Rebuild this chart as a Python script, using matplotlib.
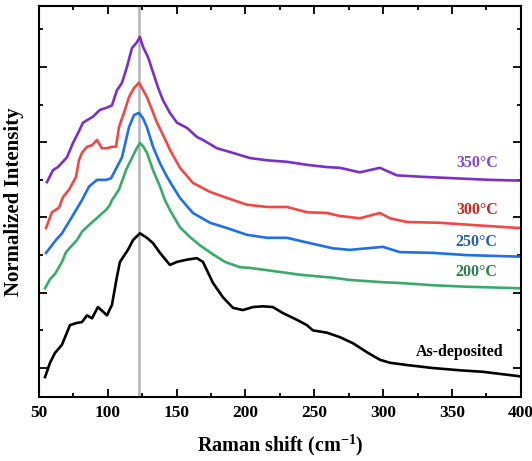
import matplotlib
matplotlib.use("Agg")
import matplotlib.pyplot as plt
from matplotlib.ticker import MultipleLocator, NullFormatter

plt.rcParams['font.family'] = ['Liberation Serif', 'DejaVu Serif']
plt.rcParams['font.weight'] = 'bold'
plt.rcParams['mathtext.fontset'] = 'custom'
plt.rcParams['mathtext.rm'] = 'Liberation Serif:bold'
plt.rcParams['mathtext.bf'] = 'Liberation Serif:bold'

# Raman spectra (normalized intensity, offset per curve)
x_asdep = [54.4, 58.0, 61.6, 66.7, 72.5, 77.6, 81.2, 84.9, 88.5, 92.8, 99.4, 103.0,
           106.6, 108.8, 114.6, 118.3, 123.3, 128.4, 132.8, 137.9, 145.1, 150.2, 157.5,
           164.7, 169.1, 176.4, 183.6, 190.9, 198.1, 205.4, 212.7, 219.9, 227.2, 237.4,
           244.6, 249.0, 259.1, 268.6, 278.0, 288.2, 297.6, 304.9, 317.2, 336.1, 355.7,
           372.4, 399.3]
y_asdep = [0.88, 1.07, 1.20, 1.31, 1.57, 1.60, 1.61, 1.70, 1.66, 1.81, 1.70, 1.84,
           2.21, 2.41, 2.57, 2.70, 2.79, 2.73, 2.66, 2.53, 2.37, 2.41, 2.44,
           2.46, 2.41, 2.13, 1.94, 1.80, 1.77, 1.81, 1.82, 1.81, 1.73, 1.64,
           1.57, 1.50, 1.47, 1.41, 1.33, 1.21, 1.11, 1.07, 1.04, 1.00, 0.97,
           0.95, 0.89]

x_200 = [54.4, 58.0, 61.6, 66.7, 69.6, 74.0, 77.6, 81.2, 86.3, 90.7, 94.3, 98.7,
         101.6, 103.0, 108.1, 113.2, 117.5, 120.4, 123.3, 125.5, 128.4, 132.8, 137.9,
         141.5, 145.1, 152.4, 159.7, 166.9, 176.4, 185.1, 196.0, 203.2, 215.6, 239.5,
         263.5, 275.8, 299.8, 312.2, 336.1, 360.8, 399.3]
y_200 = [2.06, 2.18, 2.25, 2.41, 2.54, 2.63, 2.70, 2.81, 2.90, 2.97, 3.03, 3.10,
         3.17, 3.23, 3.37, 3.63, 3.79, 3.90, 3.99, 3.95, 3.86, 3.63, 3.41,
         3.23, 3.10, 2.87, 2.74, 2.63, 2.51, 2.41, 2.34, 2.33, 2.30, 2.24,
         2.20, 2.17, 2.14, 2.13, 2.10, 2.08, 2.06]

x_250 = [55.1, 62.3, 66.7, 74.0, 81.2, 86.3, 92.1, 98.7, 102.3, 106.6, 110.3, 113.2,
         115.4, 119.0, 122.6, 125.5, 128.4, 132.8, 137.9, 143.0, 146.6, 152.4, 161.8,
         174.2, 186.5, 201.0, 215.6, 230.1, 239.5, 263.5, 275.8, 299.8, 312.2, 336.1,
         360.8, 399.3]
y_250 = [2.53, 2.70, 2.79, 3.01, 3.23, 3.41, 3.50, 3.50, 3.52, 3.67, 3.80, 4.03,
         4.20, 4.36, 4.39, 4.32, 4.20, 3.94, 3.72, 3.54, 3.43, 3.26, 3.06,
         2.93, 2.86, 2.77, 2.73, 2.73, 2.69, 2.59, 2.57, 2.61, 2.54, 2.53,
         2.50, 2.48]

x_300 = [55.1, 59.4, 64.5, 67.4, 71.8, 76.9, 79.0, 81.2, 84.9, 88.5, 92.1, 95.7,
         99.4, 103.0, 105.9, 108.1, 111.7, 115.4, 119.0, 122.6, 124.8, 128.4, 132.1,
         135.7, 140.8, 145.1, 152.4, 161.8, 174.2, 186.5, 201.0, 215.6, 230.1, 244.6,
         259.1, 268.6, 283.1, 297.6, 304.9, 317.2, 341.2, 365.2, 399.3]
y_300 = [2.86, 3.07, 3.13, 3.27, 3.37, 3.54, 3.76, 3.86, 3.94, 3.96, 4.03, 3.92,
         3.92, 3.94, 3.94, 4.20, 4.39, 4.60, 4.72, 4.79, 4.72, 4.60, 4.43,
         4.26, 4.07, 3.90, 3.66, 3.46, 3.34, 3.26, 3.17, 3.14, 3.14, 3.07,
         3.06, 3.02, 2.99, 3.06, 2.99, 2.94, 2.93, 2.90, 2.86]

x_350 = [55.8, 60.2, 63.8, 70.3, 74.7, 78.3, 82.0, 85.6, 89.2, 94.3, 99.4, 103.0,
         106.6, 110.3, 113.9, 117.5, 121.2, 123.3, 125.5, 129.2, 132.8, 136.4, 140.0,
         145.1, 150.2, 157.5, 164.7, 169.1, 179.3, 188.7, 203.2, 215.6, 230.1, 244.6,
         259.1, 268.6, 283.1, 297.6, 310.0, 328.8, 353.5, 377.5, 400.0]
y_350 = [3.47, 3.63, 3.67, 3.80, 3.99, 4.12, 4.26, 4.30, 4.34, 4.43, 4.46, 4.49,
         4.69, 4.79, 5.00, 5.25, 5.33, 5.40, 5.27, 5.13, 4.93, 4.73, 4.56,
         4.39, 4.26, 4.19, 4.07, 4.03, 3.92, 3.87, 3.79, 3.76, 3.74, 3.70,
         3.67, 3.66, 3.60, 3.66, 3.56, 3.54, 3.52, 3.50, 3.49]

labels = ['As-deposited', '200°C', '250°C', '300°C', '350°C']
line_colors = ['#000000', '#3aaa6c', '#1f6fe6', '#f24747', '#7b30c4']
text_colors = ['#000000', '#2e7d4a', '#2a5ea8', '#d42424', '#8447cc']
label_x = [355.7, 368, 368, 368, 368]
label_y = [1.21, 2.28, 2.67, 3.10, 3.72]
peak_pos = 123

fig = plt.figure(figsize=(5.32, 4.61), dpi=100)
ax = fig.add_axes([0.0733, 0.1388, 0.9057, 0.8482])

ax.axvline(peak_pos, color='#b4b4b4', lw=1.8, zorder=1)

series = [(x_asdep, y_asdep), (x_200, y_200), (x_250, y_250),
          (x_300, y_300), (x_350, y_350)]
for (xs, ys), lc in zip(series, line_colors):
    ax.plot(xs, ys, color=lc, lw=1.9, zorder=2)

for lab, tc, lx, ly in zip(labels, text_colors, label_x, label_y):
    ax.text(lx, ly, lab, color=tc, fontsize=11.5, fontweight='bold',
            ha='center', va='center')

ax.set_xlim(50, 400)
ax.set_ylim(0.615, 5.81)
ax.xaxis.set_major_locator(MultipleLocator(50))
ax.xaxis.set_minor_locator(MultipleLocator(25))
ax.yaxis.set_major_locator(MultipleLocator(1))
ax.yaxis.set_minor_locator(MultipleLocator(0.5))
ax.yaxis.set_major_formatter(NullFormatter())
ax.tick_params(which='both', direction='in', top=True, right=True, width=1.3)
ax.tick_params(which='major', length=6, labelsize=12.5, pad=6)
ax.tick_params(which='minor', length=3)
for lab in ax.get_xticklabels():
    lab.set_fontweight('bold')
for s in ax.spines.values():
    s.set_linewidth(1.5)

ax.set_xlabel('Raman shift (cm$^{-1}$)', fontsize=14.5, fontweight='bold', labelpad=8)
ax.set_ylabel('Normalized Intensity', fontsize=15, fontweight='bold', labelpad=5)

fig.savefig('out.png', dpi=100)
